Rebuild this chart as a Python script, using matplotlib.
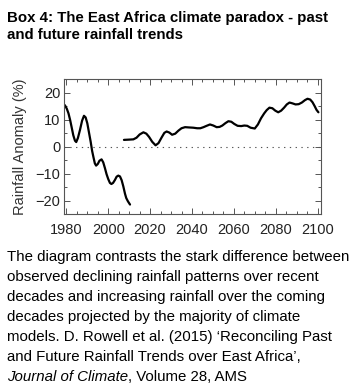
import matplotlib
matplotlib.use("Agg")
import matplotlib.pyplot as plt
from matplotlib.ticker import MultipleLocator

plt.rcParams['font.family'] = ['Liberation Sans', 'DejaVu Sans']

# Observed (past) rainfall anomaly (%)
past_years = [1979.3, 1980.2, 1981.0, 1981.8, 1982.5, 1983.3, 1984.1, 1984.7, 1985.5, 1986.5,
              1987.5, 1988.4, 1989.2, 1990.0, 1990.8, 1991.6, 1992.3, 1992.9, 1993.6, 1994.2,
              1995.0, 1995.8, 1996.8, 1997.6, 1998.4, 1999.2, 2000.0, 2000.8, 2001.5, 2002.3,
              2003.2, 2004.0, 2004.8, 2005.6, 2006.4, 2007.2, 2008.0, 2008.6, 2009.4, 2010.4]
past_vals = [15.3, 14.0, 12.3, 9.8, 7.2, 4.2, 2.2, 1.7, 3.2, 6.2,
             9.6, 11.4, 10.8, 8.6, 5.2, 1.8, -1.6, -3.8, -6.2, -7.0,
             -6.4, -5.2, -4.7, -5.8, -7.9, -10.2, -12.0, -13.4, -13.8, -13.4,
             -12.3, -11.1, -10.7, -11.0, -12.4, -14.7, -17.4, -19.0, -20.2, -21.4]

# Projected (future) rainfall anomaly (%)
future_years = [2007.5, 2010.0, 2012.0, 2013.5, 2015.0, 2016.8, 2018.2, 2019.5, 2021.0, 2022.6,
                2024.0, 2025.5, 2026.8, 2027.9, 2029.2, 2030.5, 2032.0, 2033.5, 2035.0, 2036.7,
                2038.5, 2040.6, 2042.5, 2044.0, 2045.5, 2047.0, 2048.6, 2050.2, 2051.8, 2053.2,
                2054.5, 2056.0, 2057.4, 2058.8, 2060.2, 2061.8, 2063.5, 2065.0, 2066.4, 2068.0,
                2070.0, 2071.5, 2073.0, 2074.5, 2075.7, 2077.0, 2078.4, 2079.8, 2081.2, 2082.6,
                2084.0, 2085.3, 2086.6, 2088.0, 2089.5, 2091.0, 2092.5, 2094.0, 2095.2, 2096.5,
                2097.6, 2098.6, 2099.5, 2100.4]
future_vals = [2.5, 2.6, 2.7, 3.3, 4.5, 5.3, 4.8, 3.6, 1.8, 0.5,
               1.3, 3.4, 5.1, 5.6, 5.2, 4.4, 4.8, 5.9, 6.8, 7.2,
               7.1, 7.0, 6.8, 6.8, 7.2, 7.7, 8.2, 7.8, 7.2, 7.3,
               7.8, 8.7, 9.4, 9.2, 8.4, 7.7, 7.6, 7.8, 7.7, 7.0,
               6.7, 8.2, 10.5, 12.3, 13.5, 14.4, 14.2, 13.3, 12.7, 13.3,
               14.4, 15.6, 16.3, 16.0, 15.6, 15.7, 16.3, 17.2, 17.7, 17.4,
               16.4, 15.0, 13.6, 12.7]

xticks = [1980, 2000, 2020, 2040, 2060, 2080, 2100]
yticks = [-20, -10, 0, 10, 20]

title = "Box 4: The East Africa climate paradox - past\nand future rainfall trends"
caption_lines = [
    "The diagram contrasts the stark difference between",
    "observed declining rainfall patterns over recent",
    "decades and increasing rainfall over the coming",
    "decades projected by the majority of climate",
    "models. D. Rowell et al. (2015) \u2018Reconciling Past",
    "and Future Rainfall Trends over East Africa\u2019,",
]
caption_italic = "Journal of Climate"
caption_tail = ", Volume 28, AMS"

W, H = 359, 391
fig = plt.figure(figsize=(W / 100, H / 100), dpi=100)
ax = fig.add_axes([64.3 / W, 1 - 214.3 / H, (320.7 - 64.3) / W, (214.3 - 79) / H])

ax.plot(past_years, past_vals, color='black', lw=1.6, solid_capstyle='round')
ax.plot(future_years, future_vals, color='black', lw=1.6, solid_capstyle='round')
ax.axhline(0, color='#555555', lw=0.8, linestyle=(0, (1.2, 4)))

ax.set_xlim(1979, 2101.5)
ax.set_ylim(-25, 25)
ax.set_xticks(xticks)
ax.set_yticks(yticks)
ax.set_yticklabels(['\u221220', '\u221210', '0', '10', '20'])
ax.xaxis.set_minor_locator(MultipleLocator(5))
ax.yaxis.set_minor_locator(MultipleLocator(5))
ax.tick_params(which='both', direction='in', top=True, right=True, color='#555555',
               width=0.7, labelsize=10.5, labelcolor='#222222')
ax.tick_params(which='major', length=4)
ax.tick_params(which='minor', length=2.5)
ax.tick_params(axis='x', pad=6)
ax.tick_params(axis='y', pad=3)
for s in ax.spines.values():
    s.set_color('#555555')
    s.set_linewidth(0.8)
ax.set_ylabel('Rainfall Anomaly (%)', fontsize=10.5, color='#333333', labelpad=6)

fig.text(7 / W, 1 - 11 / H, title, fontsize=10.8, fontweight='bold', va='top', ha='left',
         linespacing=1.25)

y0 = 256.7
dy = 20.0
fs = 10.8
for i, line in enumerate(caption_lines):
    fig.text(7 / W, 1 - (y0 + i * dy) / H, line, fontsize=fs, va='center', ha='left')
t1 = fig.text(7 / W, 1 - (y0 + 6 * dy) / H, caption_italic, fontsize=fs, va='center',
              ha='left', style='italic')
fig.canvas.draw()
ax.annotate(caption_tail, xy=(1, 0), xycoords=t1, va='bottom', ha='left', fontsize=fs,
            annotation_clip=False)

fig.savefig('out.png', dpi=100)
